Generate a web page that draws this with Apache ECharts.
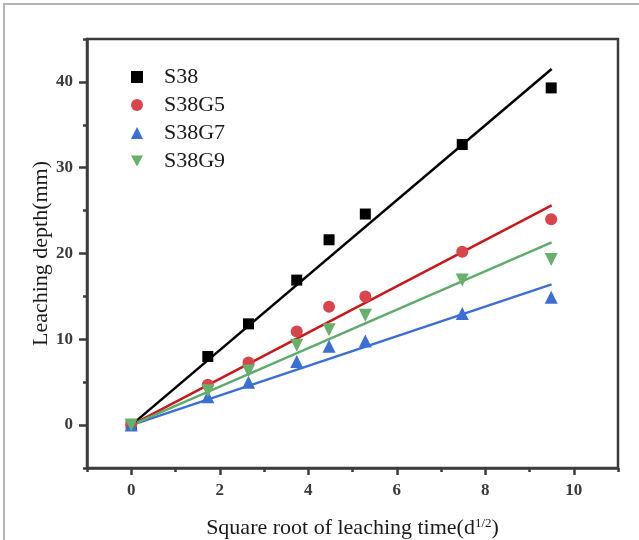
<!DOCTYPE html>
<html>
<head>
<meta charset="utf-8">
<script src="https://cdn.jsdelivr.net/npm/echarts@6/dist/echarts.min.js"></script>
<style>
  html, body { margin: 0; padding: 0; background: #fff; }
  #chart { width: 639px; height: 540px; }
</style>
</head>
<body>
<div id="chart"></div>
<script>
// square root of leaching time (d^1/2)
const sqrtTime = [0, 1.73, 2.65, 3.74, 4.47, 5.29, 7.48, 9.49];

const s38 = [0, 8.0, 11.8, 16.9, 21.6, 24.6, 32.7, 39.3];
const s38g5 = [0, 4.7, 7.3, 10.9, 13.8, 15.0, 20.2, 24.0];
const s38g7 = [0, 3.3, 5.0, 7.4, 9.2, 9.8, 13.0, 14.9];
const s38g9 = [0, 4.0, 6.3, 9.3, 11.1, 12.8, 16.9, 19.3];

// fitted lines: start and end points
const fitX = [0, 9.5];
const fitS38 = [0, 41.5];
const fitS38g5 = [0, 25.6];
const fitS38g7 = [0, 16.4];
const fitS38g9 = [0, 21.3];

const xMajor = [0, 2, 4, 6, 8, 10];
const xMinor = [-1, 1, 3, 5, 7, 9, 11];
const yMajor = [0, 10, 20, 30, 40];
const yMinor = [-5, 5, 15, 25, 35, 45];

const pairs = (xs, ys) => xs.map((x, i) => [x, ys[i]]);

const serif = "Liberation Serif";
const axisColor = "#3c3c3c";
const downTriangle = "path://M0,0 L10,0 L5,9 Z";

const myChart = echarts.init(document.getElementById("chart"));

const fitLine = (name, ys, color) => ({
  name: name,
  type: "line",
  data: pairs(fitX, ys),
  symbol: "none",
  lineStyle: { color: color, width: 2.5 },
  z: 2,
});

const points = (name, ys, symbol, size, color) => ({
  name: name,
  type: "scatter",
  data: pairs(sqrtTime, ys),
  symbol: symbol,
  symbolSize: size,
  itemStyle: { color: color, opacity: 1 },
  z: 3,
});

myChart.setOption({
  animation: false,
  backgroundColor: "#fff",
  graphic: [
    {
      type: "polyline",
      shape: { points: [[4, 540], [4, 4], [639, 4]] },
      style: { stroke: "#b5b5b5", lineWidth: 2, fill: null },
    },
  ],
  grid: {
    left: 87,
    top: 39,
    right: 21,
    bottom: 72,
    outerBoundsMode: "none",
    containLabel: false,
    show: true,
    borderColor: axisColor,
    borderWidth: 2.5,
  },
  legend: {
    orient: "vertical",
    left: 126,
    top: 61,
    itemWidth: 12,
    itemHeight: 12,
    itemGap: 6,
    data: [
      { name: "S38" },
      { name: "S38G5" },
      { name: "S38G7" },
      { name: "S38G9", icon: downTriangle },
    ],
    textStyle: {
      fontFamily: serif,
      fontSize: 22,
      color: "#1a1a1a",
      padding: [0, 0, 0, 16],
    },
  },
  xAxis: [
    {
      type: "value",
      min: -1,
      max: 11,
      position: "bottom",
      name: "Square root of leaching time(d{sup|1/2})",
      nameLocation: "middle",
      nameGap: 49,
      nameMoveOverlap: false,
      nameTextStyle: {
        fontFamily: serif,
        fontSize: 22,
        color: "#1a1a1a",
        rich: {
          sup: { fontFamily: serif, fontSize: 13, verticalAlign: "top", padding: [0, 0, 10, 0], color: "#1a1a1a" },
        },
      },
      axisLine: { show: true, onZero: false, lineStyle: { color: axisColor, width: 2.5 } },
      axisTick: {
        show: true,
        length: 7,
        customValues: xMajor,
        lineStyle: { color: axisColor, width: 2.5 },
      },
      axisLabel: {
        customValues: xMajor,
        margin: 14,
        fontFamily: serif,
        fontWeight: "bold",
        fontSize: 17,
        color: "#3a3a3a",
      },
      splitLine: { show: false },
    },
    {
      type: "value",
      min: -1,
      max: 11,
      position: "bottom",
      axisLine: { show: false, onZero: false },
      axisTick: {
        show: true,
        length: 4,
        customValues: xMinor,
        lineStyle: { color: axisColor, width: 2.5 },
      },
      axisLabel: { show: false },
      splitLine: { show: false },
    },
  ],
  yAxis: [
    {
      type: "value",
      min: -5,
      max: 45,
      position: "left",
      name: "Leaching depth(mm)",
      nameLocation: "middle",
      nameGap: 35,
      nameMoveOverlap: false,
      nameRotate: 90,
      nameTextStyle: { fontFamily: serif, fontSize: 22, color: "#1a1a1a" },
      axisLine: { show: true, onZero: false, lineStyle: { color: axisColor, width: 2.5 } },
      axisTick: {
        show: true,
        length: 8,
        customValues: yMajor,
        lineStyle: { color: axisColor, width: 2.5 },
      },
      axisLabel: {
        customValues: yMajor,
        margin: 14,
        fontFamily: serif,
        fontWeight: "bold",
        fontSize: 17,
        color: "#3a3a3a",
      },
      splitLine: { show: false },
    },
    {
      type: "value",
      min: -5,
      max: 45,
      position: "left",
      axisLine: { show: false, onZero: false },
      axisTick: {
        show: true,
        length: 4,
        customValues: yMinor,
        lineStyle: { color: axisColor, width: 2.5 },
      },
      axisLabel: { show: false },
      splitLine: { show: false },
    },
  ],
  series: [
    fitLine("S38 fit", fitS38, "#000000"),
    fitLine("S38G5 fit", fitS38g5, "#c8171d"),
    fitLine("S38G7 fit", fitS38g7, "#3b6fd2"),
    fitLine("S38G9 fit", fitS38g9, "#5fab6e"),
    points("S38", s38, "rect", 11, "#000000"),
    points("S38G5", s38g5, "circle", 12, "#d9454a"),
    points("S38G7", s38g7, "triangle", 13, "#3b6fd4"),
    points("S38G9", s38g9, downTriangle, 13, "#66b06a"),
  ],
});
</script>
</body>
</html>
